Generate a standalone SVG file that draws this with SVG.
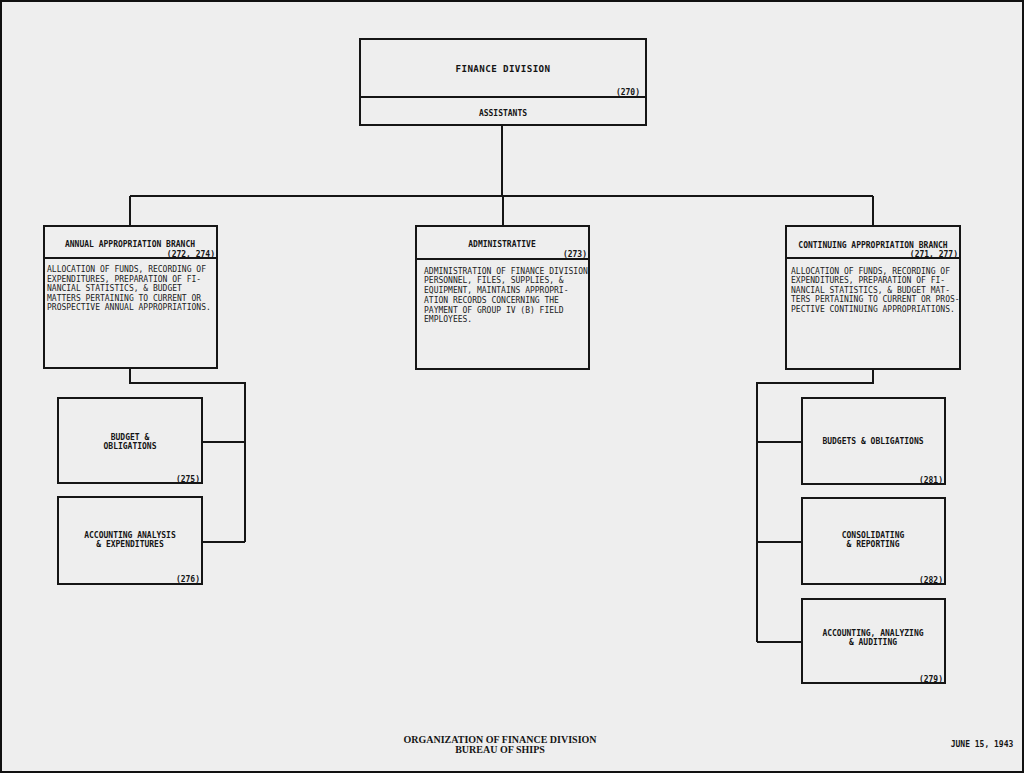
<svg xmlns="http://www.w3.org/2000/svg" width="1024" height="773" viewBox="0 0 1024 773">
<style>
.box{fill:none;stroke:#151515;stroke-width:2}
.ln{fill:none;stroke:#151515;stroke-width:2}
.t{font-family:"DejaVu Sans Mono",monospace;font-weight:bold;font-size:8px;fill:#151515;text-anchor:middle}
.tb{font-family:"DejaVu Sans Mono",monospace;font-weight:bold;font-size:9.2px;fill:#151515;text-anchor:middle;letter-spacing:0.4px}
.n{font-family:"DejaVu Sans Mono",monospace;font-weight:bold;font-size:8px;fill:#151515;text-anchor:end}
.b{font-family:"DejaVu Sans Mono",monospace;font-size:8px;fill:#222}
.f{font-family:"Liberation Serif",serif;font-weight:bold;font-size:10px;fill:#151515;text-anchor:middle}
</style>
<rect x="0" y="0" width="1024" height="773" fill="#eeeeee"/>
<rect x="1" y="1" width="1022" height="771" fill="none" stroke="#111" stroke-width="2"/>
<g id="connectors">
<path class="ln" d="M502,125 V196 M130,196 H873 M130,196 V226 M503,196 V226 M873,196 V226"/>
<path class="ln" d="M130,368 V383 H245 V542 M202,442 H245 M202,542 H245"/>
<path class="ln" d="M873,369 V383 H757 V642 M757,442 H802 M757,542 H802 M757,642 H802"/>
</g>
<g id="finance-division">
<rect class="box" x="360" y="39" width="286" height="86"/>
<line class="ln" x1="360" y1="97" x2="646" y2="97"/>
<text class="tb" x="503" y="72">FINANCE DIVISION</text>
<text class="n" x="640" y="95">(270)</text>
<text class="t" x="503" y="116">ASSISTANTS</text>
</g>
<g id="annual-appropriation-branch">
<rect class="box" x="44" y="226" width="173" height="142"/>
<line class="ln" x1="44" y1="258" x2="217" y2="258"/>
<text class="t" x="130" y="247">ANNUAL APPROPRIATION BRANCH</text>
<text class="n" x="215" y="257">(272, 274)</text>
<text class="b" x="47" y="272">ALLOCATION OF FUNDS, RECORDING OF</text>
<text class="b" x="47" y="281.5">EXPENDITURES, PREPARATION OF FI-</text>
<text class="b" x="47" y="291">NANCIAL STATISTICS, &amp; BUDGET</text>
<text class="b" x="47" y="300.5">MATTERS PERTAINING TO CURRENT OR</text>
<text class="b" x="47" y="310">PROSPECTIVE ANNUAL APPROPRIATIONS.</text>
</g>
<g id="administrative">
<rect class="box" x="416" y="226" width="173" height="143"/>
<line class="ln" x1="416" y1="259" x2="589" y2="259"/>
<text class="t" x="502" y="247">ADMINISTRATIVE</text>
<text class="n" x="587" y="257">(273)</text>
<text class="b" x="424" y="273.5">ADMINISTRATION OF FINANCE DIVISION</text>
<text class="b" x="424" y="283">PERSONNEL, FILES, SUPPLIES, &amp;</text>
<text class="b" x="424" y="293">EQUIPMENT, MAINTAINS APPROPRI-</text>
<text class="b" x="424" y="302.5">ATION RECORDS CONCERNING THE</text>
<text class="b" x="424" y="312.5">PAYMENT OF GROUP IV (B) FIELD</text>
<text class="b" x="424" y="321.5">EMPLOYEES.</text>
</g>
<g id="continuing-appropriation-branch">
<rect class="box" x="786" y="226" width="174" height="143"/>
<line class="ln" x1="786" y1="258" x2="960" y2="258"/>
<text class="t" x="873" y="248">CONTINUING APPROPRIATION BRANCH</text>
<text class="n" x="958" y="257">(271, 277)</text>
<text class="b" x="791" y="273.5">ALLOCATION OF FUNDS, RECORDING OF</text>
<text class="b" x="791" y="283">EXPENDITURES, PREPARATION OF FI-</text>
<text class="b" x="791" y="292.5">NANCIAL STATISTICS, &amp; BUDGET MAT-</text>
<text class="b" x="791" y="302">TERS PERTAINING TO CURRENT OR PROS-</text>
<text class="b" x="791" y="311.5">PECTIVE CONTINUING APPROPRIATIONS.</text>
</g>
<g id="budget-obligations">
<rect class="box" x="58" y="398" width="144" height="85"/>
<text class="t" x="130" y="440">BUDGET &amp;</text>
<text class="t" x="130" y="449">OBLIGATIONS</text>
<text class="n" x="200" y="482">(275)</text>
</g>
<g id="accounting-analysis">
<rect class="box" x="58" y="497" width="144" height="87"/>
<text class="t" x="130" y="538">ACCOUNTING ANALYSIS</text>
<text class="t" x="130" y="547">&amp; EXPENDITURES</text>
<text class="n" x="200" y="582">(276)</text>
</g>
<g id="budgets-obligations">
<rect class="box" x="802" y="398" width="143" height="86"/>
<text class="t" x="873" y="444">BUDGETS &amp; OBLIGATIONS</text>
<text class="n" x="943" y="483">(281)</text>
</g>
<g id="consolidating-reporting">
<rect class="box" x="802" y="498" width="143" height="86"/>
<text class="t" x="873" y="538">CONSOLIDATING</text>
<text class="t" x="873" y="547">&amp; REPORTING</text>
<text class="n" x="943" y="583">(282)</text>
</g>
<g id="accounting-analyzing-auditing">
<rect class="box" x="802" y="599" width="143" height="84"/>
<text class="t" x="873" y="636">ACCOUNTING, ANALYZING</text>
<text class="t" x="873" y="645">&amp; AUDITING</text>
<text class="n" x="943" y="682">(279)</text>
</g>
<g id="footer">
<text class="f" x="500" y="743">ORGANIZATION OF FINANCE DIVISION</text>
<text class="f" x="500" y="753">BUREAU OF SHIPS</text>
<text class="t" x="982" y="747">JUNE 15, 1943</text>
</g>
</svg>
